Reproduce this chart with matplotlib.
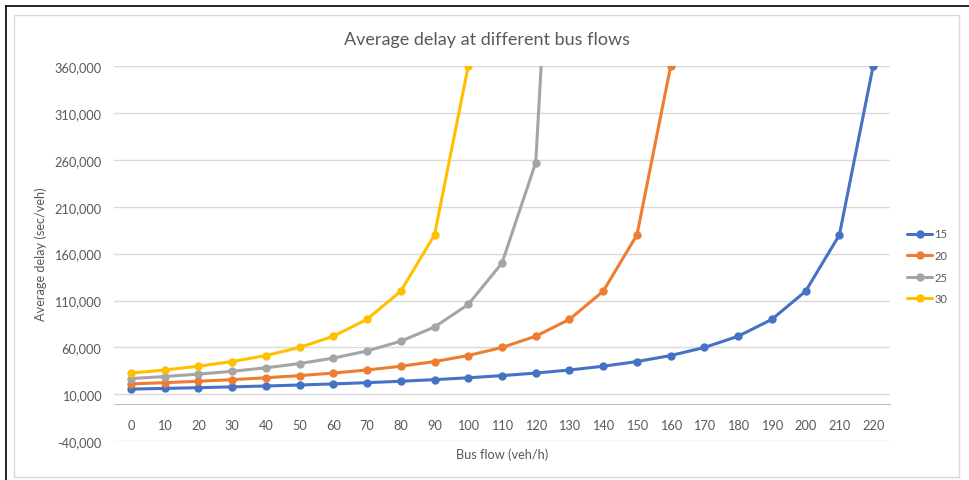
import matplotlib.pyplot as plt
from matplotlib.lines import Line2D
from matplotlib.patches import Rectangle
from matplotlib.ticker import FuncFormatter

# Average delay (sec/veh) per bus flow (veh/h), one series per scenario
flow_15 = list(range(0, 230, 10))
delay_15 = [15652, 16364, 17143, 18000, 18947, 20000, 21176, 22500, 24000, 25714,
            27692, 30000, 32727, 36000, 40000, 45000, 51429, 60000, 72000, 90000,
            120000, 180000, 360000]

flow_20 = list(range(0, 170, 10))
delay_20 = [21176, 22500, 24000, 25714, 27692, 30000, 32727, 36000, 40000, 45000,
            51429, 60000, 72000, 90000, 120000, 180000, 360000]

flow_25 = list(range(0, 140, 10))
delay_25 = [26866, 29032, 31579, 34615, 38298, 42857, 48649, 56250, 66667, 81818,
            105882, 150000, 257143, 900000]

flow_30 = list(range(0, 110, 10))
delay_30 = [32727, 36000, 40000, 45000, 51429, 60000, 72000, 90000, 120000,
            180000, 360000]

series = [
    ("15", flow_15, delay_15, "#4472C4"),
    ("20", flow_20, delay_20, "#ED7D31"),
    ("25", flow_25, delay_25, "#A5A5A5"),
    ("30", flow_30, delay_30, "#FFC000"),
]

y_ticks = list(range(-40000, 360001, 50000))
x_ticks = list(range(0, 230, 10))

plt.rcParams['font.family'] = ['Lato', 'DejaVu Sans']
text_color = "#595959"

fig = plt.figure(figsize=(9.69, 4.81), dpi=100)
ax = fig.add_axes([114 / 969, 1 - 442.3 / 481, (890 - 114) / 969, (442.3 - 67) / 481])

for name, x, y, color in series:
    ax.plot(x, y, color=color, linewidth=2.2, marker='o', markersize=5,
            label=name, solid_capstyle='round', zorder=3)

ax.set_xlim(-5, 225)
ax.set_ylim(-40000, 360000)
ax.set_yticks(y_ticks)
ax.set_xticks(x_ticks)
ax.yaxis.set_major_formatter(FuncFormatter(lambda v, p: f"{int(v):,}"))
ax.grid(axis='y', color="#D9D9D9", linewidth=1)
ax.set_axisbelow(True)
for side in ax.spines.values():
    side.set_visible(False)
# horizontal axis crosses at zero, labels hang below it
ax.spines['bottom'].set_visible(True)
ax.spines['bottom'].set_position(('data', 0))
ax.spines['bottom'].set_color("#BFBFBF")
ax.tick_params(length=0, labelsize=9.2, colors=text_color)
ax.tick_params(axis='x', pad=11)
ax.tick_params(axis='y', pad=9)

# title centred on the whole chart frame
fig.text(486.5 / 969, 1 - 40 / 481, "Average delay at different bus flows",
         fontsize=13, color=text_color, ha='center', va='center')
ax.set_ylabel("Average delay (sec/veh)", fontsize=9.2, color=text_color, labelpad=5)
fig.text(502 / 969, 1 - 455 / 481, "Bus flow (veh/h)", fontsize=9.2,
         color=text_color, ha='center', va='center')

leg = ax.legend(loc='upper left', bbox_to_anchor=(903 / 969, 1 - 225 / 481),
                bbox_transform=fig.transFigure, frameon=False, fontsize=8,
                handlelength=2.2, handletextpad=0.2, labelspacing=0.95,
                borderaxespad=0)
for t in leg.get_texts():
    t.set_color(text_color)

# chart frame and outer border
fig.patches.append(Rectangle((14 / 969, 1 - 478 / 481), (959 - 14) / 969, (478 - 16) / 481,
                             transform=fig.transFigure, fill=False,
                             edgecolor="#D9D9D9", linewidth=1))
fig.add_artist(Line2D([5.5 / 969, 5.5 / 969], [0, 1 - 7 / 481],
                      transform=fig.transFigure, color="black", linewidth=1.2))
fig.add_artist(Line2D([5.5 / 969, 1], [1 - 7 / 481, 1 - 7 / 481],
                      transform=fig.transFigure, color="black", linewidth=1.2))

fig.savefig("out.png", dpi=100)
